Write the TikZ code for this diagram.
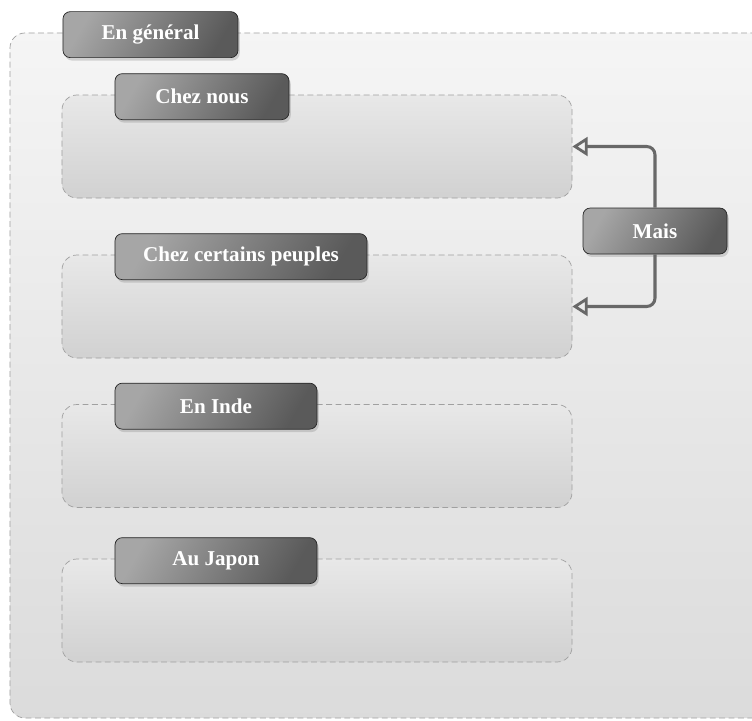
\documentclass[tikz,border=0pt]{standalone}
\usepackage{fontspec}
\setmainfont{Liberation Serif}
\usetikzlibrary{arrows.meta, positioning, shadows}

\definecolor{headlight}{HTML}{A6A6A6}
\definecolor{headdark}{HTML}{5A5A5A}
\definecolor{dashgray}{HTML}{A0A0A0}
\definecolor{linkgray}{HTML}{686868}

\begin{document}
\begin{tikzpicture}[
        x=0.03cm, y=-0.03cm,
        frame/.style={rectangle, rounded corners=0.45cm, draw=dashgray, dash pattern=on 5pt off 3pt, line width=0.6pt},
        outerbox/.style={frame, top color=white!96!black, bottom color=white!86!black, minimum width=23.4cm, minimum height=20.55cm},
        innerbox/.style={frame, top color=white!91!black, bottom color=white!82!black, minimum width=15.3cm, minimum height=3.09cm},
        label/.style={rectangle, rounded corners=0.22cm, draw=black!85, line width=0.6pt, shading=axis, left color=headlight, right color=headdark, shading angle=60, text=white, font=\fontsize{18}{20}\selectfont\bfseries, minimum height=1.38cm, drop shadow={shadow xshift=1.5pt, shadow yshift=-2.5pt, opacity=0.3}},
        head/.style={label, anchor=west, xshift=1.59cm, yshift=-0.06cm},
        link/.style={-{Triangle[open, length=13pt, width=16pt, line width=2.4pt]}, line width=2.6pt, linkgray, rounded corners=0.25cm}
    ]
        \useasboundingbox[fill=white] (0,0) rectangle (752,720);
        \clip (0,0) rectangle (752,720);

        % Outer frame
        \node[outerbox] (general) at (400,375.5) {};
        \node[head, minimum width=5.25cm] (headgeneral) at (general.north west) {En général};

        % Inner frames
        \node[innerbox] (nous) at (317,146.5) {};
        \node[innerbox] (peuples) at (317,306.5) {};
        \node[innerbox] (inde) at (317,456) {};
        \node[innerbox] (japon) at (317,610.5) {};

        \node[head, minimum width=5.22cm] (headnous) at (nous.north west) {Chez nous};
        \node[head, minimum width=7.56cm] (headpeuples) at (peuples.north west) {Chez certains peuples};
        \node[head, minimum width=6.06cm] (headinde) at (inde.north west) {En Inde};
        \node[head, minimum width=6.06cm] (headjapon) at (japon.north west) {Au Japon};

        % Contrast
        \node[label, minimum width=4.32cm] (mais) at (655,231) {Mais};
        \draw[link] (mais.north) |- (nous.east);
        \draw[link] (mais.south) |- (peuples.east);

    \end{tikzpicture}
\end{document}
